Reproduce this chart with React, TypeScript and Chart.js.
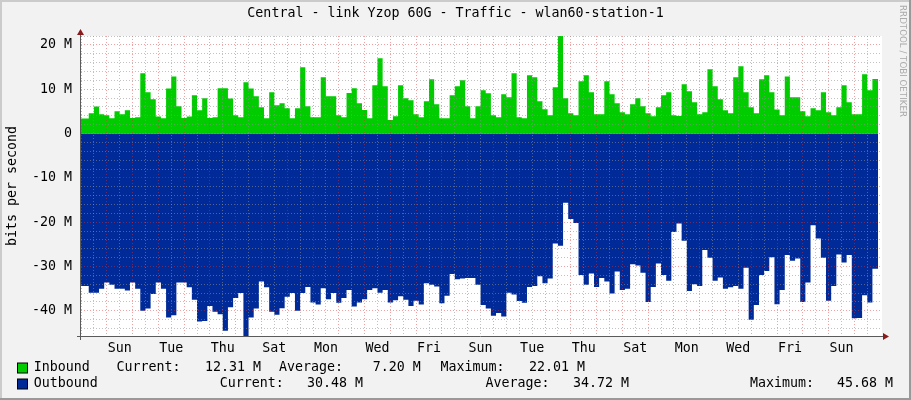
import React, { useEffect, useRef } from 'react';
import { Chart, registerables } from 'chart.js';

Chart.register(...registerables);

// ---------- text ----------
const TITLE = 'Central - link Yzop 60G - Traffic - wlan60-station-1';
const Y_TITLE = 'bits per second';
const WATERMARK = 'RRDTOOL / TOBI OETIKER';

// ---------- x axis (hours since start, day 0 = Saturday) ----------
const X_MAX_HOURS = 744.8;
const X_LABELS = ['Sun', 'Tue', 'Thu', 'Sat', 'Mon', 'Wed', 'Fri', 'Sun', 'Tue', 'Thu', 'Sat', 'Mon', 'Wed', 'Fri', 'Sun'];
const X_LABEL_DAYS = [1, 3, 5, 7, 9, 11, 13, 15, 17, 19, 21, 23, 25, 27, 29];
const STEP_HOURS = 4.8;
const STEP_OFFSET_HOURS = 2.4;
const DATA_END_HOURS = 742;

// ---------- y axis (M bits/s) ----------
const Y_MIN = -45.68;
const Y_MAX = 22.01;

// ---------- series (M bits/s per step) ----------
const INBOUND = [
  3.38, 4.59, 6.09, 4.36, 4.14, 3.46, 5.04, 4.36, 5.26, 3.53,
  3.68, 13.6, 9.32, 7.74, 3.83, 3.46, 10.15, 12.86, 6.17, 3.53,
  3.83, 8.65, 5.26, 7.97, 3.53, 3.68, 10.2, 10.2, 7.9, 4.14,
  3.68, 11.6, 10.15, 8.4, 5.94, 3.46, 9.3, 6.4, 6.84, 5.71,
  3.46, 5.71, 14.96, 6.17, 3.68, 3.68, 12.7, 8.42, 8.42, 4.14,
  3.68, 9.17, 10.2, 6.84, 5.34, 3.46, 10.9, 17.0, 10.7, 3.08,
  3.91, 10.9, 7.97, 7.52, 4.36, 3.68, 7.29, 12.26, 6.62, 3.46,
  3.46, 8.65, 10.7, 12.0, 6.17, 3.46, 6.17, 9.77, 9.1, 4.14,
  3.68, 8.87, 8.2, 13.6, 3.68, 3.46, 13.16, 12.7, 7.29, 5.49,
  4.14, 10.45, 22.01, 7.97, 4.59, 4.14, 11.8, 13.16, 9.32, 4.36,
  4.36, 11.8, 8.87, 6.84, 4.81, 4.36, 6.62, 7.97, 6.17, 4.59,
  3.91, 5.94, 8.65, 9.32, 4.14, 3.98, 11.13, 9.55, 7.07, 4.36,
  4.81, 14.5, 10.7, 7.74, 5.26, 4.59, 12.7, 15.2, 9.32, 5.94,
  4.59, 12.26, 13.16, 9.32, 5.41, 4.14, 12.9, 8.2, 8.2, 5.04,
  3.91, 5.71, 5.26, 9.32, 4.81, 4.14, 5.94, 10.9, 7.07, 4.36,
  4.36, 13.4, 9.77, 12.31,
];
const OUTBOUND = [
  -34.4, -35.9, -35.9, -35.0, -33.6, -34.1, -35.0, -35.0, -35.4, -33.6,
  -35.0, -40.0, -39.5, -36.2, -33.6, -35.0, -41.5, -41.0, -33.6, -33.6,
  -34.7, -37.5, -42.4, -42.3, -38.9, -40.2, -40.8, -44.5, -39.2, -37.1,
  -36.0, -45.68, -41.5, -39.5, -33.4, -34.7, -40.2, -40.9, -39.4, -36.8,
  -36.0, -40.0, -36.0, -34.6, -38.1, -38.6, -34.9, -37.4, -36.0, -38.2,
  -37.1, -35.3, -39.0, -38.1, -37.4, -35.3, -34.9, -35.9, -35.3, -38.1,
  -37.6, -36.7, -37.5, -38.9, -37.7, -38.6, -33.8, -34.1, -34.5, -38.3,
  -36.6, -31.7, -32.9, -32.7, -32.6, -32.6, -34.1, -38.7, -39.5, -41.1,
  -40.5, -41.3, -35.9, -36.3, -37.8, -38.2, -34.6, -34.4, -32.2, -33.8,
  -32.7, -24.8, -25.3, -15.6, -19.3, -20.2, -31.9, -34.1, -31.6, -34.6,
  -32.6, -33.4, -36.1, -31.1, -35.3, -35.0, -29.5, -29.8, -31.4, -38.0,
  -34.6, -29.3, -31.9, -33.2, -22.2, -20.3, -24.2, -35.5, -34.0, -34.4,
  -26.3, -28.0, -33.2, -32.5, -35.0, -34.7, -34.4, -35.0, -30.3, -42.0,
  -38.7, -31.9, -31.0, -27.9, -38.5, -35.3, -27.4, -28.7, -28.2, -38.0,
  -33.6, -20.7, -23.7, -28.0, -37.7, -34.4, -27.3, -29.1, -27.4, -41.7,
  -41.6, -36.5, -38.1, -30.48,
];

// ---------- legend ----------
const SERIES_NAMES = ['Inbound', 'Outbound'];
const STAT_LABELS = ['Current:', 'Average:', 'Maximum:'];
const INBOUND_STATS = ['12.31 M', '7.20 M', '22.01 M'];
const OUTBOUND_STATS = ['30.48 M', '34.72 M', '45.68 M'];

const GREEN = '#00CC00';
const BLUE = '#002A97';
const MONO = '"DejaVu Sans Mono", monospace';
const FONT_PX = 13.3;

const stepX = (k: number) => (k === 0 ? 0 : STEP_OFFSET_HOURS + k * STEP_HOURS);
function toPoints(vals: number[]) {
  const pts = vals.map((v, k) => ({ x: stepX(k), y: v }));
  pts.push({ x: DATA_END_HOURS, y: vals[vals.length - 1] });
  return pts;
}

const GRID_MINOR = 'rgba(143,143,143,0.55)';
const GRID_MAJOR = 'rgba(222,48,48,0.45)';

const rrdPlugin = {
  id: 'rrdDecor',
  beforeDraw(chart: any) {
    const { ctx, chartArea: a, width, height } = chart;
    ctx.save();
    ctx.fillStyle = '#f2f2f2';
    ctx.fillRect(0, 0, width, height);
    ctx.fillStyle = '#cbcbcb';
    ctx.fillRect(0, 0, width, 2);
    ctx.fillRect(0, 0, 2, height);
    ctx.fillStyle = '#999999';
    ctx.fillRect(0, height - 2, width, 2);
    ctx.fillRect(width - 2, 0, 2, height);
    ctx.fillStyle = '#ffffff';
    ctx.fillRect(a.left, a.top, a.right - a.left + 1, a.bottom - a.top);
    ctx.restore();
  },
  afterDraw(chart: any) {
    const { ctx, chartArea: a, width } = chart;
    ctx.save();
    // axes
    const ax = a.left - 0.5;
    const ay = a.bottom + 0.5;
    ctx.strokeStyle = '#5a5a5a';
    ctx.lineWidth = 1;
    ctx.beginPath();
    ctx.moveTo(ax, a.top - 3);
    ctx.lineTo(ax, a.bottom + 4);
    ctx.stroke();
    ctx.beginPath();
    ctx.moveTo(a.left - 4, ay);
    ctx.lineTo(a.right + 3, ay);
    ctx.stroke();
    // arrows
    ctx.fillStyle = '#8b1a1a';
    ctx.beginPath();
    ctx.moveTo(ax - 3.5, a.top - 1);
    ctx.lineTo(ax + 3.5, a.top - 1);
    ctx.lineTo(ax, a.top - 7);
    ctx.closePath();
    ctx.fill();
    ctx.beginPath();
    ctx.moveTo(a.right + 2, ay - 3.5);
    ctx.lineTo(a.right + 2, ay + 3.5);
    ctx.lineTo(a.right + 8, ay);
    ctx.closePath();
    ctx.fill();

    // title
    ctx.fillStyle = '#000';
    ctx.font = `${FONT_PX}px ${MONO}`;
    ctx.textBaseline = 'middle';
    ctx.textAlign = 'center';
    ctx.fillText(TITLE, width / 2, 14);

    // y title
    ctx.save();
    ctx.translate(12.5, 186);
    ctx.rotate(-Math.PI / 2);
    ctx.fillText(Y_TITLE, 0, 0);
    ctx.restore();

    // watermark
    ctx.save();
    ctx.translate(902.5, 61);
    ctx.rotate(Math.PI / 2);
    ctx.fillStyle = '#ababab';
    ctx.font = '8.7px "DejaVu Sans", sans-serif';
    ctx.fillText(WATERMARK, 0, 0);
    ctx.restore();

    // legend
    ctx.textAlign = 'left';
    const rows = [
      { y: 368, color: GREEN, name: SERIES_NAMES[0], stats: INBOUND_STATS,
        xs: [116.5, 205, 279, 372.7, 440.5, 529] },
      { y: 384, color: BLUE, name: SERIES_NAMES[1], stats: OUTBOUND_STATS,
        xs: [219.8, 307, 485.5, 573, 750, 837] },
    ];
    rows.forEach((r) => {
      ctx.fillStyle = r.color;
      ctx.fillRect(17.5, r.y - 5, 10, 10);
      ctx.strokeStyle = '#000';
      ctx.lineWidth = 1;
      ctx.strokeRect(17.5, r.y - 5, 10, 10);
      ctx.fillStyle = '#000';
      ctx.fillText(r.name, 33.7, r.y);
      for (let i = 0; i < 3; i++) {
        ctx.fillText(STAT_LABELS[i], r.xs[i * 2], r.y);
        ctx.fillText(r.stats[i], r.xs[i * 2 + 1], r.y);
      }
    });
    ctx.restore();
  },
};

export default function App() {
  const ref = useRef<HTMLCanvasElement | null>(null);
  useEffect(() => {
    if (!ref.current) return;
    const chart = new Chart(ref.current, {
      type: 'line',
      data: {
        datasets: [
          {
            label: SERIES_NAMES[0],
            data: toPoints(INBOUND),
            stepped: 'before',
            backgroundColor: GREEN,
            borderWidth: 0,
            borderColor: 'rgba(0,0,0,0)',
            pointRadius: 0,
            fill: 'origin',
          },
          {
            label: SERIES_NAMES[1],
            data: toPoints(OUTBOUND),
            stepped: 'before',
            backgroundColor: BLUE,
            borderWidth: 0,
            borderColor: 'rgba(0,0,0,0)',
            pointRadius: 0,
            fill: 'origin',
          },
        ],
      },
      options: {
        animation: false,
        responsive: false,
        maintainAspectRatio: false,
        devicePixelRatio: 1,
        layout: { padding: { left: 0, right: 30, top: 36, bottom: 40 } },
        plugins: {
          legend: { display: false },
          title: { display: false },
          tooltip: { enabled: false },
        },
        scales: {
          x: {
            type: 'linear',
            min: 0,
            max: X_MAX_HOURS,
            afterBuildTicks: (s: any) => {
              const t = [];
              for (let h = 0; h < X_MAX_HOURS - 1; h += 12) t.push({ value: h });
              s.ticks = t;
            },
            afterFit: (s: any) => {
              s.height = 24;
            },
            grid: {
              z: 1,
              drawTicks: false,
              lineWidth: 1,
              color: (c: any) => (c.tick && c.tick.value % 24 === 0 ? GRID_MAJOR : GRID_MINOR),
            },
            border: { display: false, dash: [1, 2] },
            ticks: {
              autoSkip: false,
              maxRotation: 0,
              minRotation: 0,
              padding: 5,
              color: '#000',
              font: { family: MONO, size: FONT_PX },
              callback: (v: any) => {
                const val = Number(v);
                if (val % 24 !== 12) return '';
                const idx = X_LABEL_DAYS.indexOf(Math.floor(val / 24));
                return idx >= 0 ? X_LABELS[idx] : '';
              },
            },
          },
          y: {
            min: Y_MIN,
            max: Y_MAX,
            afterBuildTicks: (s: any) => {
              const t = [];
              for (let v = -44; v <= 22; v += 2) t.push({ value: v });
              s.ticks = t;
            },
            afterFit: (s: any) => {
              s.width = 81;
            },
            grid: {
              z: 1,
              drawTicks: false,
              lineWidth: 1,
              color: (c: any) => (c.tick && c.tick.value % 10 === 0 ? GRID_MAJOR : GRID_MINOR),
            },
            border: { display: false, dash: [1, 2] },
            ticks: {
              autoSkip: false,
              padding: 9,
              color: '#000',
              font: { family: MONO, size: FONT_PX },
              callback: (v: any) => {
                const val = Number(v);
                if (val % 10 !== 0) return '';
                return val === 0 ? '0' : `${val} M`;
              },
            },
          },
        },
      },
      plugins: [rrdPlugin],
    } as any);
    return () => chart.destroy();
  }, []);

  return (
    <div style={{ position: 'absolute', left: 0, top: 0, width: 911, height: 400 }}>
      <canvas ref={ref} width={911} height={400} style={{ display: 'block', width: 911, height: 400 }} />
    </div>
  );
}
